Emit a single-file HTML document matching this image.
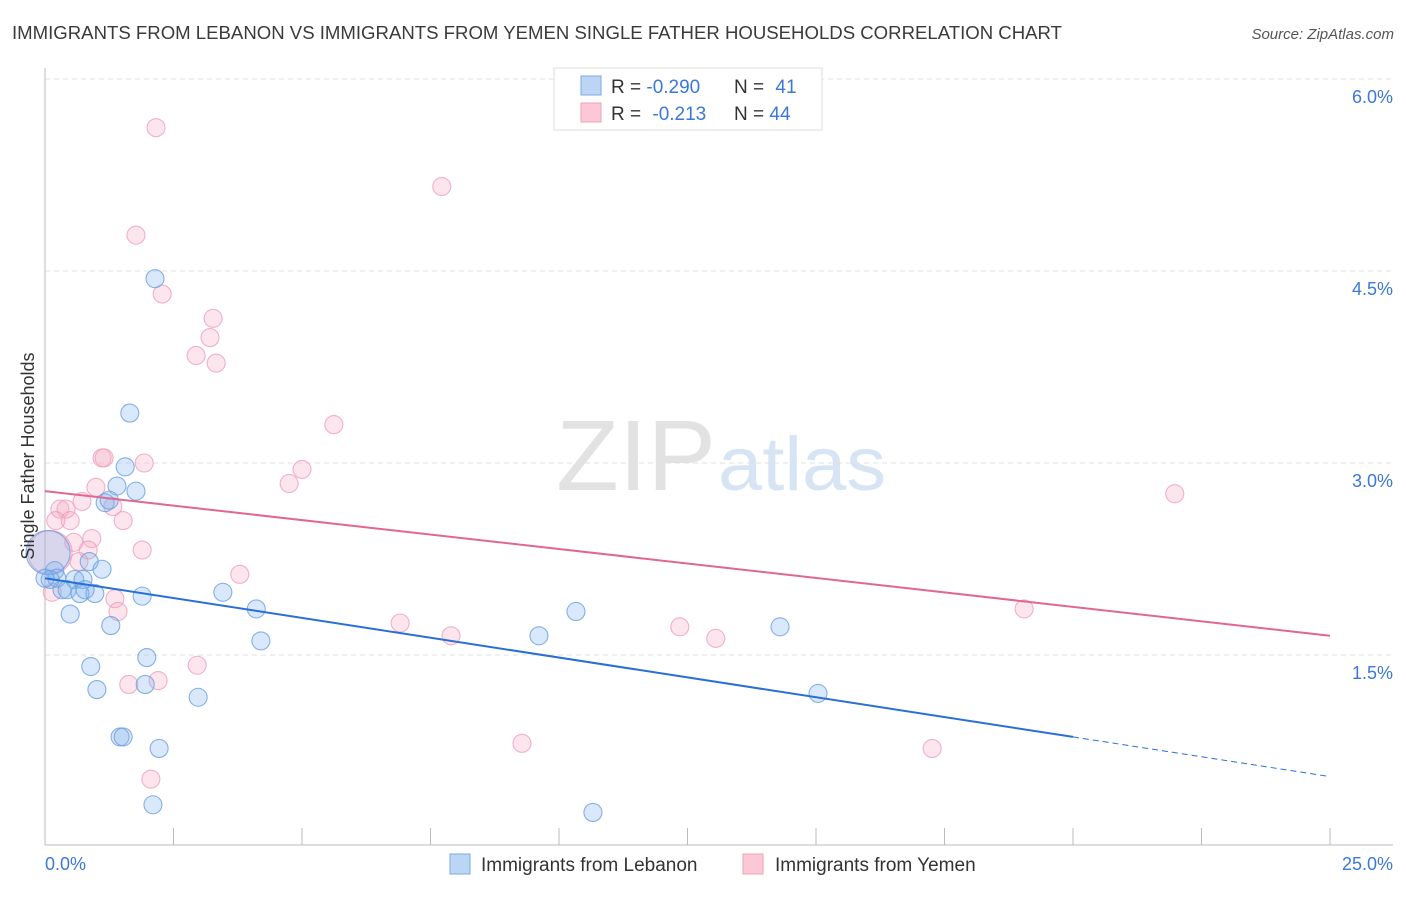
<!DOCTYPE html>
<html><head><meta charset="utf-8"><style>
body{margin:0;background:#fff;font-family:"Liberation Sans",sans-serif}
svg text{font-family:"Liberation Sans",sans-serif}
</style></head><body>
<svg id="chart" width="1406" height="892" xmlns="http://www.w3.org/2000/svg">
<text x="12" y="39" font-size="18" fill="#3a3a3a" textLength="1050" lengthAdjust="spacingAndGlyphs">IMMIGRANTS FROM LEBANON VS IMMIGRANTS FROM YEMEN SINGLE FATHER HOUSEHOLDS CORRELATION CHART</text>
<text x="1394" y="39" font-size="15" fill="#555" text-anchor="end" font-style="italic">Source: ZipAtlas.com</text>
<text x="716" y="490" font-size="100" fill="#e2e2e2" text-anchor="end" font-family="Liberation Serif" textLength="160" lengthAdjust="spacingAndGlyphs">ZIP</text>
<text x="718" y="490" font-size="76" fill="#d6e4f4" textLength="168" lengthAdjust="spacingAndGlyphs">atlas</text>
<g id="grid"></g>
<g id="axes"></g>
<g id="marks"></g>
<text transform="translate(34,456) rotate(-90)" font-size="18" fill="#333" text-anchor="middle">Single Father Households</text>
<text x="45" y="870" font-size="18" fill="#3b78d8">0.0%</text>
<text x="1393" y="870" font-size="18" fill="#3b78d8" text-anchor="end">25.0%</text>
<g>
<rect x="554" y="68" width="268" height="62" fill="#fff" stroke="#ddd"/>
<rect x="581" y="76" width="20" height="19" fill="#bcd5f5" stroke="#7aaae8"/>
<rect x="581" y="103" width="20" height="19" fill="#fcc8d8" stroke="#f0a0b8"/>
<text x="611" y="93" font-size="19" fill="#333">R = <tspan fill="#3b78d8">-0.290</tspan></text>
<text x="734" y="93" font-size="19" fill="#333">N = <tspan fill="#3b78d8" dx="6">41</tspan></text>
<text x="611" y="120" font-size="19" fill="#333">R = <tspan fill="#3b78d8" dx="6">-0.213</tspan></text>
<text x="734" y="120" font-size="19" fill="#333">N = <tspan fill="#3b78d8">44</tspan></text>
</g>
<g>
<rect x="450" y="854" width="20" height="20" fill="#bcd5f5" stroke="#7aaae8"/>
<text x="481" y="871" font-size="19" fill="#333">Immigrants from Lebanon</text>
<rect x="743" y="854" width="20" height="20" fill="#fcc8d8" stroke="#f0a0b8"/>
<text x="775" y="871" font-size="19" fill="#333">Immigrants from Yemen</text>
</g>
</svg>
<script>
const blueX=[2.14,1.65,1.56,1.40,1.77,1.17,1.25,0.86,1.11,0.19,0.06,0.23,0.58,0.74,0.33,0.43,0.68,0.97,1.89,3.46,0.49,1.28,4.11,4.20,1.98,0.89,1.01,1.95,2.98,1.46,1.52,2.22,2.10,9.61,10.33,14.30,15.04,10.66,0.10,0.78,0.0];
const blueY=[4.44,3.39,2.97,2.82,2.78,2.69,2.71,2.23,2.17,2.16,2.30,2.10,2.09,2.09,2.01,2.01,1.98,1.98,1.96,1.99,1.82,1.73,1.86,1.61,1.48,1.41,1.23,1.27,1.17,0.86,0.86,0.77,0.33,1.65,1.84,1.72,1.20,0.27,2.09,2.01,2.10];
const pinkX=[2.16,7.72,1.77,2.28,3.27,3.21,2.94,3.33,5.62,1.11,1.15,1.93,5.00,4.75,0.99,0.72,1.32,0.29,0.41,0.21,0.49,1.52,0.91,0.84,0.56,1.89,0.66,0.10,3.79,0.14,1.36,1.42,6.91,7.90,12.35,13.05,19.05,21.98,2.96,1.63,2.20,9.28,17.26,2.06];
const pinkY=[5.62,5.16,4.78,4.32,4.13,3.98,3.84,3.78,3.30,3.04,3.04,3.00,2.95,2.84,2.81,2.70,2.66,2.64,2.64,2.55,2.55,2.55,2.41,2.32,2.38,2.32,2.23,2.30,2.13,1.99,1.94,1.84,1.75,1.65,1.72,1.63,1.86,2.76,1.42,1.27,1.30,0.81,0.77,0.53];
const blueTrend=[2.10,0.55];
const pinkTrend=[2.78,1.65];
const yTicks=[1.5,3.0,4.5,6.0];
const yTickLabels=["1.5%","3.0%","4.5%","6.0%"];
const xTicks=[2.5,5,7.5,10,12.5,15,17.5,20,22.5,25];
const NS="http://www.w3.org/2000/svg";
const xs=v=>45+v/25*1285, ys=v=>847-v*128;
function mk(p,t,a){const e=document.createElementNS(NS,t);for(const k in a)e.setAttribute(k,a[k]);document.getElementById(p).appendChild(e);return e;}
yTicks.forEach((v,i)=>{
 const l=mk('grid','line',{x1:45,x2:1393,y1:ys(v),y2:ys(v),stroke:'#e2e2e2','stroke-dasharray':'5,4'});
 
 
 const t=mk('grid','text',{x:1393,y:ys(v)+24,'font-size':18,fill:'#3b78d8','text-anchor':'end'});
 t.textContent=yTickLabels[i];
 
 
});
let a=mk('axes','line',{x1:45,x2:45,y1:68,y2:845,stroke:'#bbb'});


a=mk('axes','line',{x1:45,x2:1393,y1:845,y2:845,stroke:'#bbb'});


xTicks.forEach(v=>{
 const t=mk('axes','line',{x1:xs(v),x2:xs(v),y1:828,y2:845,stroke:'#bbb'});
 
 
});
function dots(X,Y,fill,stroke,name){
 X.forEach((x,i)=>{
  const big=(x<=0.1&&Y[i]>2.25&&Y[i]<2.35);
  const c=mk('marks','circle',{cx:xs(x),cy:ys(Y[i]),r:big?22:9,fill:fill,stroke:stroke,'stroke-width':1.1,'stroke-opacity':0.8});
  
  
 });
}
dots(pinkX,pinkY,'rgba(244,170,195,0.3)','#ee9fb9','point-yemen');
dots(blueX,blueY,'rgba(130,178,238,0.3)','#6a9fe0','point-lebanon');
let L=mk('marks','line',{x1:xs(0),y1:ys(pinkTrend[0]),x2:xs(25),y2:ys(pinkTrend[1]),stroke:'#e06890','stroke-width':2});


const bAt=x=>blueTrend[0]+(blueTrend[1]-blueTrend[0])*x/25;
L=mk('marks','line',{x1:xs(0),y1:ys(bAt(0)),x2:xs(20),y2:ys(bAt(20)),stroke:'#2a6fd6','stroke-width':2});


L=mk('marks','line',{x1:xs(20),y1:ys(bAt(20)),x2:xs(25),y2:ys(bAt(25)),stroke:'#2a6fd6','stroke-width':1,'stroke-dasharray':'6,4'});


</script>
</body></html>
